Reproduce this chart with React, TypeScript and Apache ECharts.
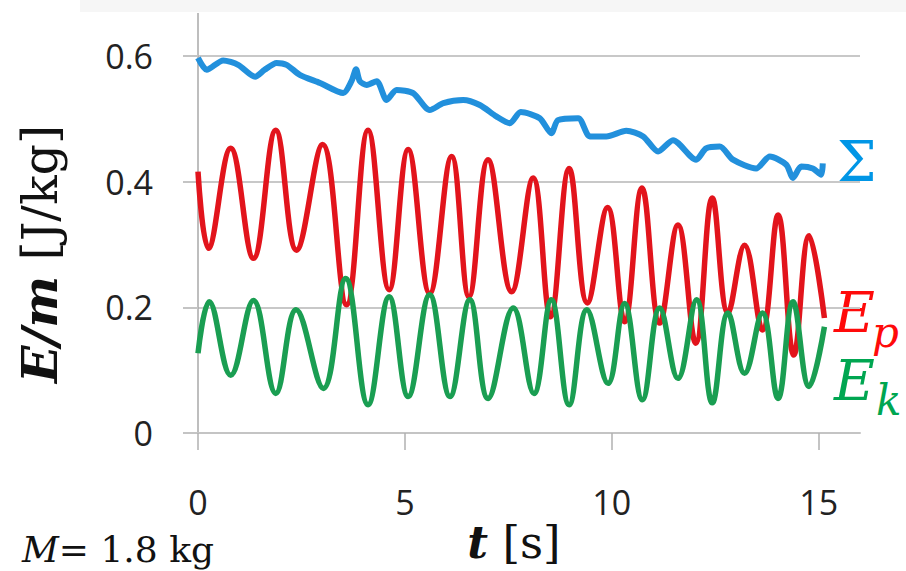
import React, { useEffect, useRef } from "react";
import * as echarts from "echarts";

// Axis ticks
const timeTicks = [0, 5, 10, 15];
const energyTicks = [0, 0.2, 0.4, 0.6];

// Total energy per unit mass, Σ [J/kg]
const sumTime = [
  0, 0.21, 0.61, 0.97, 1.38, 1.61, 1.9, 2.14, 2.46, 2.95, 3.51, 3.71, 3.82, 3.91, 4.08, 4.32,
  4.56, 4.8, 5.2, 5.6, 5.93, 6.41, 6.81, 7.21, 7.54, 7.8, 8.26, 8.54, 8.7, 9.19, 9.47, 9.87,
  10.35, 10.76, 11.12, 11.48, 12.04, 12.28, 12.61, 12.93, 13.49, 13.82, 14.22, 14.38, 14.58,
  14.86, 15.06, 15.1,
];
const sumEnergy = [
  0.597, 0.578, 0.593, 0.586, 0.567, 0.578, 0.589, 0.586, 0.57, 0.557, 0.541, 0.56, 0.579, 0.56,
  0.554, 0.56, 0.53, 0.546, 0.541, 0.514, 0.525, 0.53, 0.522, 0.504, 0.493, 0.511, 0.501, 0.477,
  0.498, 0.501, 0.472, 0.472, 0.481, 0.472, 0.448, 0.466, 0.435, 0.453, 0.456, 0.435, 0.421,
  0.44, 0.427, 0.406, 0.424, 0.421, 0.411, 0.429,
];

// Potential energy per unit mass, Ep [J/kg]
const potTime = [
  0, 0.25, 0.79, 1.34, 1.88, 2.38, 3.01, 3.59, 4.11, 4.62, 5.08, 5.6, 6.13, 6.55, 7.01, 7.58,
  8.1, 8.52, 8.97, 9.41, 9.9, 10.31, 10.73, 11.16, 11.6, 12.03, 12.43, 12.81, 13.21, 13.64,
  14.02, 14.4, 14.77, 15.14,
];
const potEnergy = [
  0.416, 0.294, 0.453, 0.278, 0.482, 0.291, 0.459, 0.204, 0.482, 0.228, 0.451, 0.222, 0.44,
  0.217, 0.435, 0.225, 0.406, 0.185, 0.421, 0.207, 0.359, 0.177, 0.39, 0.175, 0.331, 0.143,
  0.374, 0.191, 0.299, 0.164, 0.347, 0.124, 0.314, 0.183,
];

// Kinetic energy per unit mass, Ek [J/kg]
const kinTime = [
  0, 0.27, 0.79, 1.34, 1.88, 2.37, 3.03, 3.57, 4.11, 4.62, 5.08, 5.6, 6.09, 6.57, 7.01, 7.62,
  8.12, 8.54, 8.97, 9.4, 9.91, 10.31, 10.74, 11.16, 11.6, 12.05, 12.43, 12.81, 13.21, 13.64,
  14.02, 14.38, 14.77, 15.14,
];
const kinEnergy = [
  0.127, 0.209, 0.092, 0.211, 0.063, 0.196, 0.071, 0.246, 0.045, 0.217, 0.058, 0.22, 0.058,
  0.212, 0.055, 0.199, 0.063, 0.212, 0.045, 0.196, 0.079, 0.206, 0.053, 0.199, 0.087, 0.212,
  0.048, 0.191, 0.095, 0.191, 0.055, 0.209, 0.074, 0.169,
];

const pairs = (ts: number[], vs: number[]) => ts.map((t, i) => [t, vs[i]]);

const BLUE = "#2290dc";
const RED = "#e2141c";
const GREEN = "#1a9e52";
const LABEL_FONT = "'Open Sans', sans-serif";
const SERIF = "'DejaVu Serif', serif";

export default function App() {
  const ref = useRef<HTMLDivElement>(null);

  useEffect(() => {
    const chart = echarts.init(ref.current!, null, { renderer: "svg" });
    const left = 198;
    const top = 56;

    chart.setOption({
      animation: false,
      backgroundColor: "#ffffff",
      grid: { left, top, width: 662, height: 377, containLabel: false },
      xAxis: {
        type: "value",
        min: 0,
        max: 16,
        interval: 5,
        axisLine: { show: true, lineStyle: { color: "#c4c4c4", width: 2 } },
        axisTick: {
          show: true,
          length: 17,
          customValues: timeTicks,
          lineStyle: { color: "#b0b0b0", width: 1.5 },
        },
        axisLabel: {
          customValues: timeTicks,
          margin: 52,
          fontSize: 34,
          fontFamily: LABEL_FONT,
          color: "#222222",
        },
        splitLine: { show: false },
      },
      yAxis: {
        type: "value",
        min: 0,
        max: 0.6,
        interval: 0.2,
        axisLine: { show: true, lineStyle: { color: "#a9a9a9", width: 1.5 } },
        axisTick: { show: true, length: 15, lineStyle: { color: "#c4c4c4", width: 2 } },
        axisLabel: {
          customValues: energyTicks,
          margin: 45,
          fontSize: 34,
          fontFamily: LABEL_FONT,
          color: "#222222",
          formatter: (v: number) => (v === 0 ? "0" : v.toFixed(1)),
        },
        splitLine: { show: true, lineStyle: { color: "#c8c8c8", width: 2 } },
      },
      series: [
        {
          name: "Σ",
          type: "line",
          data: pairs(sumTime, sumEnergy),
          showSymbol: false,
          smooth: 0.25,
          clip: false,
          lineStyle: { color: BLUE, width: 6 },
        },
        {
          name: "Ep",
          type: "line",
          data: pairs(potTime, potEnergy),
          showSymbol: false,
          smooth: 0.4,
          clip: false,
          lineStyle: { color: RED, width: 5.5 },
        },
        {
          name: "Ek",
          type: "line",
          data: pairs(kinTime, kinEnergy),
          showSymbol: false,
          smooth: 0.4,
          clip: false,
          lineStyle: { color: GREEN, width: 5.5 },
        },
      ],
      graphic: [
        {
          type: "rect",
          z: -10,
          shape: { x: 80, y: 0, width: 826, height: 12 },
          style: { fill: "#f6f6f6" },
        },
        {
          type: "line",
          shape: { x1: left, y1: 13, x2: left, y2: top },
          style: { stroke: "#a9a9a9", lineWidth: 1.5 },
        },
        {
          type: "text",
          x: 40,
          y: 254,
          rotation: Math.PI / 2,
          style: {
            text: "{a|E/m}{b| [J/kg]}",
            align: "center",
            verticalAlign: "middle",
            fill: "#111111",
            rich: {
              a: { fontFamily: SERIF, fontSize: 49, fontWeight: "bold", fontStyle: "italic", fill: "#111111" },
              b: { fontFamily: SERIF, fontSize: 49, fill: "#111111" },
            },
          },
        },
        {
          type: "text",
          x: 514,
          y: 542,
          style: {
            text: "{a|t}{b| [s]}",
            align: "center",
            verticalAlign: "middle",
            fill: "#111111",
            rich: {
              a: { fontFamily: SERIF, fontSize: 45, fontWeight: "bold", fontStyle: "italic", fill: "#111111" },
              b: { fontFamily: SERIF, fontSize: 45, fill: "#111111" },
            },
          },
        },
        {
          type: "text",
          x: 22,
          y: 549,
          style: {
            text: "{a|M}{b|= 1.8 kg}",
            align: "left",
            verticalAlign: "middle",
            fill: "#111111",
            rich: {
              a: { fontFamily: SERIF, fontSize: 36, fontStyle: "italic", fill: "#111111" },
              b: { fontFamily: SERIF, fontSize: 36, fill: "#111111" },
            },
          },
        },
        {
          type: "text",
          x: 837,
          y: 161,
          style: { text: "Σ", fontFamily: SERIF, fontSize: 56, fill: "#0096e6", align: "left", verticalAlign: "middle" },
        },
        {
          type: "text",
          x: 834,
          y: 312,
          style: { text: "E", fontFamily: SERIF, fontSize: 56, fontStyle: "italic", fill: "#ff0a0a", align: "left", verticalAlign: "middle" },
        },
        {
          type: "text",
          x: 872,
          y: 332,
          style: { text: "p", fontFamily: SERIF, fontSize: 42, fontStyle: "italic", fill: "#ff0a0a", align: "left", verticalAlign: "middle" },
        },
        {
          type: "text",
          x: 834,
          y: 380,
          style: { text: "E", fontFamily: SERIF, fontSize: 56, fontStyle: "italic", fill: "#00a651", align: "left", verticalAlign: "middle" },
        },
        {
          type: "text",
          x: 876,
          y: 400,
          style: { text: "k", fontFamily: SERIF, fontSize: 42, fontStyle: "italic", fill: "#00a651", align: "left", verticalAlign: "middle" },
        },
      ],
    });

    return () => chart.dispose();
  }, []);

  return (
    <div
      ref={ref}
      style={{ position: "fixed", left: 0, top: 0, width: 906, height: 571, background: "#ffffff" }}
    />
  );
}
